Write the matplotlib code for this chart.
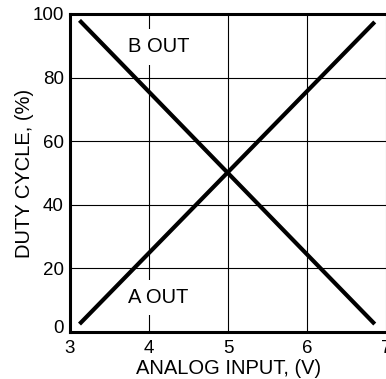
import matplotlib
matplotlib.use("Agg")
import matplotlib.pyplot as plt
from matplotlib.transforms import ScaledTranslation

# Data
a_out_x = [3.12, 6.85]
a_out_y = [2.5, 97.5]
b_out_x = [3.12, 6.85]
b_out_y = [98.0, 2.5]
x_ticks = [3, 4, 5, 6, 7]
y_ticks = [0, 20, 40, 60, 80, 100]
x_label = "ANALOG INPUT, (V)"
y_label = "DUTY CYCLE, (%)"
labels = [("B OUT", 4.12, 89.7), ("A OUT", 4.12, 10.8)]

plt.rcParams['font.family'] = ['Liberation Sans', 'DejaVu Sans']

fig = plt.figure(figsize=(3.86, 3.79), dpi=100)
ax = fig.add_axes([70/386, 47/379, 316.6/386, 318/379])

ax.plot(a_out_x, a_out_y, color='black', lw=3, solid_capstyle='butt', zorder=3)
ax.plot(b_out_x, b_out_y, color='black', lw=3, solid_capstyle='butt', zorder=3)

ax.set_xlim(3, 7)
ax.set_ylim(0, 100)
ax.set_xticks(x_ticks)
ax.set_yticks(y_ticks)
ax.grid(True, color='black', lw=0.8, zorder=1)
ax.tick_params(axis='both', length=0, labelsize=13.5)
ax.tick_params(axis='x', pad=6)
ax.tick_params(axis='y', pad=4.5)
for s in ax.spines.values():
    s.set_linewidth(2.2)

# shift the "0" label upward a bit
ylabels = ax.get_yticklabels()
ylabels[0].set_transform(ylabels[0].get_transform() +
                         ScaledTranslation(0, 4/72, fig.dpi_scale_trans))

ax.set_xlabel(x_label, fontsize=14.5, labelpad=1)
ax.set_ylabel(y_label, fontsize=14.5, labelpad=-1)

for txt, x, y in labels:
    ax.text(x, y, txt, fontsize=14.5, ha='center', va='center', zorder=2,
            bbox=dict(facecolor='white', edgecolor='none', pad=6))

fig.savefig("out.png", dpi=100)
